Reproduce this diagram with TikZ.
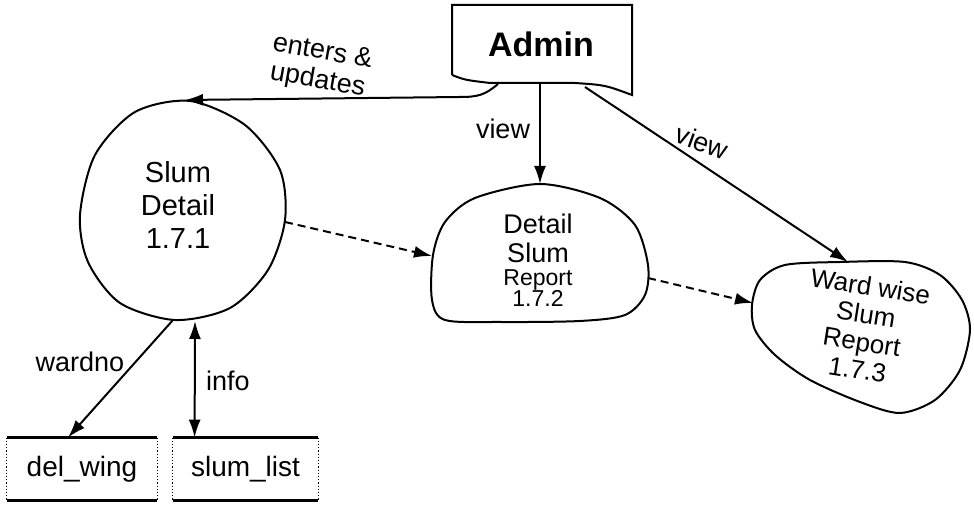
\documentclass[tikz,border=0pt]{standalone}
\usepackage{fontspec}
\setmainfont{Liberation Sans}
\usetikzlibrary{arrows.meta}
\tikzset{>={Latex[length=9pt,width=6pt]}}
\tikzset{
  flow/.style={line width=1pt},
  dflow/.style={line width=1pt,dash pattern=on 4pt off 2.5pt},
  lbl/.style={font=\fontsize{13.5}{14.5}\selectfont,inner sep=0pt},
  bubtxt/.style={align=center,inner sep=0pt},
  store/.style={minimum height=31pt,inner sep=0pt,font=\fontsize{14}{16}\selectfont},
}

\begin{document}
\begin{tikzpicture}[x=0.5pt,y=-0.5pt]
    \useasboundingbox (0,0) rectangle (974,506);
    % external entity
    \node[font=\bfseries\fontsize{17}{20}\selectfont] (admin) at (541,44) {Admin};
    \draw[flow] (452,75) -- (452,5) -- (632,5) -- (632,95) .. controls (605,85) .. (575,83) -- (490,83) .. controls (465,80) .. (452,75);
    \coordinate (adml) at (498,84);
    \coordinate (admc) at (540,83);
    \coordinate (admr) at (585,87);
    % processes
    \draw[flow] plot[smooth cycle] coordinates {(80,215) (95,155) (135,112) (190,101) (245,125) (280,170) (285,220) (268,270) (230,308) (175,320) (120,303) (88,262)};
    \node[bubtxt,font=\fontsize{14.5}{16.5}\selectfont] (p1) at (178,205) {Slum\\Detail\\1.7.1};
    \draw[flow] plot[smooth cycle] coordinates {(432,300) (433,255) (445,222) (475,198) (540,184) (600,198) (635,225) (648,265) (645,295) (625,315) (580,321) (500,322) (445,320)};
    \node[bubtxt,font=\fontsize{13.5}{14.5}\selectfont] (p2) at (538,260) {Detail\\Slum\\[-3pt]{\fontsize{11.5}{9}\selectfont Report}\\[-4pt]{\fontsize{11.5}{9}\selectfont 1.7.2}};
    \draw[flow] plot[smooth cycle] coordinates {(752,305) (760,280) (785,265) (840,262) (905,262) (940,275) (962,300) (970,330) (960,370) (935,400) (900,413) (860,402) (810,380) (775,355) (755,330)};
    \node[bubtxt,rotate=-9,font=\fontsize{13}{14}\selectfont] (p3) at (864,328) {Ward wise\\Slum\\Report\\1.7.3};
    \coordinate (p1t) at (185,100);
    \coordinate (p1r) at (285,222);
    \coordinate (p1bl) at (173,320);
    \coordinate (p1br) at (195,321);
    \coordinate (p2l) at (432,256);
    \coordinate (p2t) at (540,184);
    \coordinate (p2r) at (648,278);
    \coordinate (p3l) at (753,303);
    \coordinate (p3t) at (848,262);
    % data stores
    \node[store,minimum width=75pt] (dw) at (82,469) {del\_wing};
    \node[store,minimum width=72.5pt] (sl) at (245.5,469) {slum\_list};
    \foreach \s in {dw,sl} {
      \draw[line width=1.8pt] (\s.north west) -- (\s.north east) (\s.south west) -- (\s.south east);
      \draw[densely dotted,line width=0.6pt] (\s.north west) -- (\s.south west) (\s.north east) -- (\s.south east);
    }
    % flows
    \draw[flow,->] (adml) .. controls (485,95) and (478,97) .. (460,97) -- (p1t);
    \draw[flow,->] (admc) -- (p2t);
    \draw[flow,->] (admr) -- (p3t);
    \draw[dflow,->] (p1r) -- (p2l);
    \draw[dflow,->] (p2r) -- (p3l);
    \draw[flow,->] (p1bl) -- ([xshift=-7pt]dw.north);
    \draw[flow,<->] (p1br) -- ([xshift=11pt]sl.north west);
    \node[lbl,align=center,rotate=-10] (lent) at (320,67) {enters \&\\updates};
    \node[lbl] (lview) at (503,129) {view};
    \node[lbl,rotate=-20] (lview2) at (702,142) {view};
    \node[lbl] (lward) at (80,362) {wardno};
    \node[lbl] (linfo) at (228,381) {info};
\end{tikzpicture}
\end{document}
